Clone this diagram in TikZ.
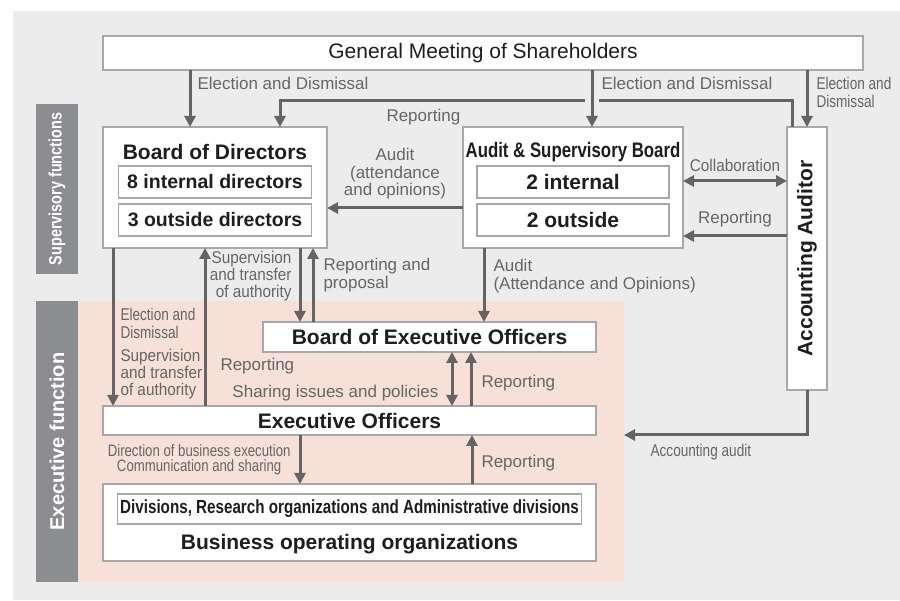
\documentclass[tikz,border=0pt]{standalone}
\usepackage{fontspec}
\setmainfont{Liberation Sans}
\newfontfamily\narrowfont[FakeStretch=0.8]{Liberation Sans}
\newfontfamily\semifont[FakeStretch=0.9]{Liberation Sans}
\usepackage{xcolor}
\usepackage{tikz}
\usetikzlibrary{arrows.meta, positioning}

\definecolor{bggray}{HTML}{ECECEC}
\definecolor{barfill}{HTML}{8C8D90}
\definecolor{execpink}{HTML}{F6E0D7}
\definecolor{arrowgray}{HTML}{646464}
\definecolor{labelgray}{HTML}{666666}
\definecolor{boxline}{HTML}{A8A8A8}
\definecolor{titleblack}{HTML}{1E1E1E}

\begin{document}
\begin{tikzpicture}[
        x=1pt, y=-1pt,
        box/.style={draw=boxline, line width=1.2pt, fill=white, inner sep=0pt, outer sep=0pt, anchor=north west},
        inbox/.style={draw=boxline, line width=1.2pt, fill=white, inner sep=0pt, outer sep=0pt, text=titleblack},
        title/.style={font=\fontsize{21}{23}\selectfont\bfseries, text=titleblack, inner sep=0pt},
        lbl/.style={font=\fontsize{17}{17.5}\selectfont, text=labelgray, inner sep=2pt},
        semilbl/.style={font=\semifont\fontsize{17}{17}\selectfont, text=labelgray, inner sep=2pt},
        narrowlbl/.style={font=\narrowfont\fontsize{17}{18}\selectfont, text=labelgray, inner sep=2pt},
        bar/.style={fill=barfill, inner sep=0pt, outer sep=0pt, anchor=north west},
        arr/.style={-{Triangle[width=11pt,length=11pt]}, line width=3pt, draw=arrowgray},
        darr/.style={{Triangle[width=11pt,length=11pt]}-{Triangle[width=11pt,length=11pt]}, line width=3pt, draw=arrowgray}
    ]
    \useasboundingbox (0,0) rectangle (900,601);
    \fill[bggray] (13,11) rectangle (900,600);

    % areas and side bars
    \node[bar, fill=execpink, minimum width=546pt, minimum height=281pt] (execarea) at (78,301) {};
    \node[bar, minimum width=42pt, minimum height=170pt] (supbar) at (36,104) {};
    \node[bar, minimum width=42pt, minimum height=281pt] (execbar) at (36,301) {};
    \node[rotate=90, text=white, font=\narrowfont\fontsize{18}{20}\selectfont\bfseries] at (supbar.center) {Supervisory functions};
    \node[rotate=90, text=white, font=\fontsize{20}{22}\selectfont\bfseries] at (execbar.center) {Executive function};

    % boxes
    \node[box, minimum width=760pt, minimum height=34pt, font=\fontsize{21}{23}\selectfont, text=titleblack] (shareholders) at (103,36) {General Meeting of Shareholders};

    \node[box, minimum width=224pt, minimum height=121pt] (board) at (103,127) {};
    \node[title] (boardtitle) at ([yshift=-25pt]board.north) {Board of Directors};
    \node[inbox, minimum width=193pt, minimum height=32pt, font=\fontsize{19.5}{21}\selectfont\bfseries] (boardin) at ([yshift=-55pt]board.north) {8 internal directors};
    \node[inbox, minimum width=193pt, minimum height=32pt, font=\fontsize{19.5}{21}\selectfont\bfseries, below=6pt of boardin] (boardout) {3 outside directors};

    \node[box, minimum width=220pt, minimum height=121pt] (auditboard) at (463,127) {};
    \node[title, font=\narrowfont\fontsize{21}{23}\selectfont\bfseries] (audittitle) at ([yshift=-25pt]auditboard.north) {Audit \& Supervisory Board};
    \node[inbox, minimum width=192pt, minimum height=32pt, font=\fontsize{21}{23}\selectfont\bfseries] (auditin) at ([yshift=-55pt]auditboard.north) {2 internal};
    \node[inbox, minimum width=192pt, minimum height=32pt, font=\fontsize{21}{23}\selectfont\bfseries, below=6pt of auditin] (auditout) {2 outside};

    \node[box, minimum width=40pt, minimum height=263pt] (auditor) at (787,127) {};
    \node[title, rotate=90] at (auditor.center) {Accounting Auditor};

    \node[box, title, minimum width=333pt, minimum height=30pt] (execboard) at (263,322) {Board of Executive Officers};
    \node[box, title, minimum width=493pt, minimum height=29pt] (officers) at (103,406) {Executive Officers};

    \node[box, minimum width=493pt, minimum height=77pt] (business) at (103,484) {};
    \node[inbox, minimum width=464pt, minimum height=30pt, font=\narrowfont\fontsize{19}{21}\selectfont\bfseries] (divisions) at ([yshift=-25pt]business.north) {Divisions, Research organizations and Administrative divisions};
    \node[title] (businesstitle) at ([yshift=-60pt]business.north) {Business operating organizations};

    % reporting line with a gap at the crossing
    \draw[arr] ([xshift=-15pt]auditor.north) -- ++(0,-26) -| node[lbl, below=5pt, pos=0.36]{Reporting} ([xshift=65pt]board.north);
    \draw[bggray, line width=14pt] ([xshift=19pt]auditboard.north) ++(0,-31) -- ++(0,12);

    % elections
    \draw[arr] ([xshift=-25pt]board.north |- shareholders.south) -- node[lbl, right=4pt, pos=0.23]{Election and Dismissal} ([xshift=-25pt]board.north);
    \draw[arr] ([xshift=19pt]auditboard.north |- shareholders.south) -- node[lbl, right=6pt, pos=0.23]{Election and Dismissal} ([xshift=19pt]auditboard.north);
    \draw[arr] (auditor.north |- shareholders.south) -- node[narrowlbl, right=6pt, pos=0.39, align=left]{Election and\\Dismissal} (auditor.north);

    % audit board and accounting auditor
    \draw[arr] ([yshift=-20.5pt]auditboard.west) -- node[lbl, above=5pt, align=center]{Audit\\(attendance\\and opinions)} ([yshift=-20.5pt]auditboard.west -| board.east);
    \draw[darr] ([yshift=6.5pt]auditboard.east) -- node[semilbl, above=6pt]{Collaboration} ([yshift=6.5pt]auditboard.east -| auditor.west);
    \draw[arr] ([yshift=-48.5pt]auditboard.east -| auditor.west) -- node[lbl, above=5pt]{Reporting} ([yshift=-48.5pt]auditboard.east);

    % board of directors and executive side
    \draw[arr] ([xshift=-102pt]board.south) -- node[narrowlbl, right=4pt, pos=0.475, align=left]{Election and\\Dismissal}
        node[semilbl, right=4pt, pos=0.8, align=left]{Supervision\\and transfer\\of authority} ([xshift=-102pt]board.south |- officers.north);
    \draw[arr] ([xshift=-10pt]board.south |- officers.north) -- node[lbl, right=12pt, pos=0.25]{Reporting} ([xshift=-10pt]board.south);
    \draw[arr] ([xshift=85pt]board.south) -- node[semilbl, left=5pt, pos=0.38, align=right]{Supervision\\and transfer\\of authority} ([xshift=85pt]board.south |- execboard.north);
    \draw[arr] ([xshift=98pt]board.south |- execboard.north) -- node[lbl, right=7pt, pos=0.635, align=left]{Reporting and\\proposal} ([xshift=98pt]board.south);
    \draw[arr] ([xshift=-89pt]auditboard.south) -- node[lbl, right=6pt, pos=0.38, align=left]{Audit\\(Attendance and Opinions)} ([xshift=-89pt]auditboard.south |- execboard.north);

    \draw[darr] ([xshift=22.5pt]execboard.south) -- node[lbl, left=10pt, pos=0.76]{Sharing issues and policies} ([xshift=22.5pt]execboard.south |- officers.north);
    \draw[arr] ([xshift=41.5pt]execboard.south |- officers.north) -- node[lbl, right=7pt, pos=0.43]{Reporting} ([xshift=41.5pt]execboard.south);

    \draw[arr] (auditor.south) |- node[narrowlbl, below=6pt, pos=0.79]{Accounting audit} (execarea.east |- officers.south);

    \draw[arr] ([xshift=-49.5pt]officers.south) -- node[narrowlbl, font=\narrowfont\fontsize{16.5}{15}\selectfont, left=6pt, midway, align=center]{Direction of business execution\\Communication and sharing} ([xshift=-49.5pt]officers.south |- business.north);
    \draw[arr] ([xshift=122.5pt]officers.south |- business.north) -- node[lbl, right=6pt, pos=0.43]{Reporting} ([xshift=122.5pt]officers.south);
\end{tikzpicture}
\end{document}
